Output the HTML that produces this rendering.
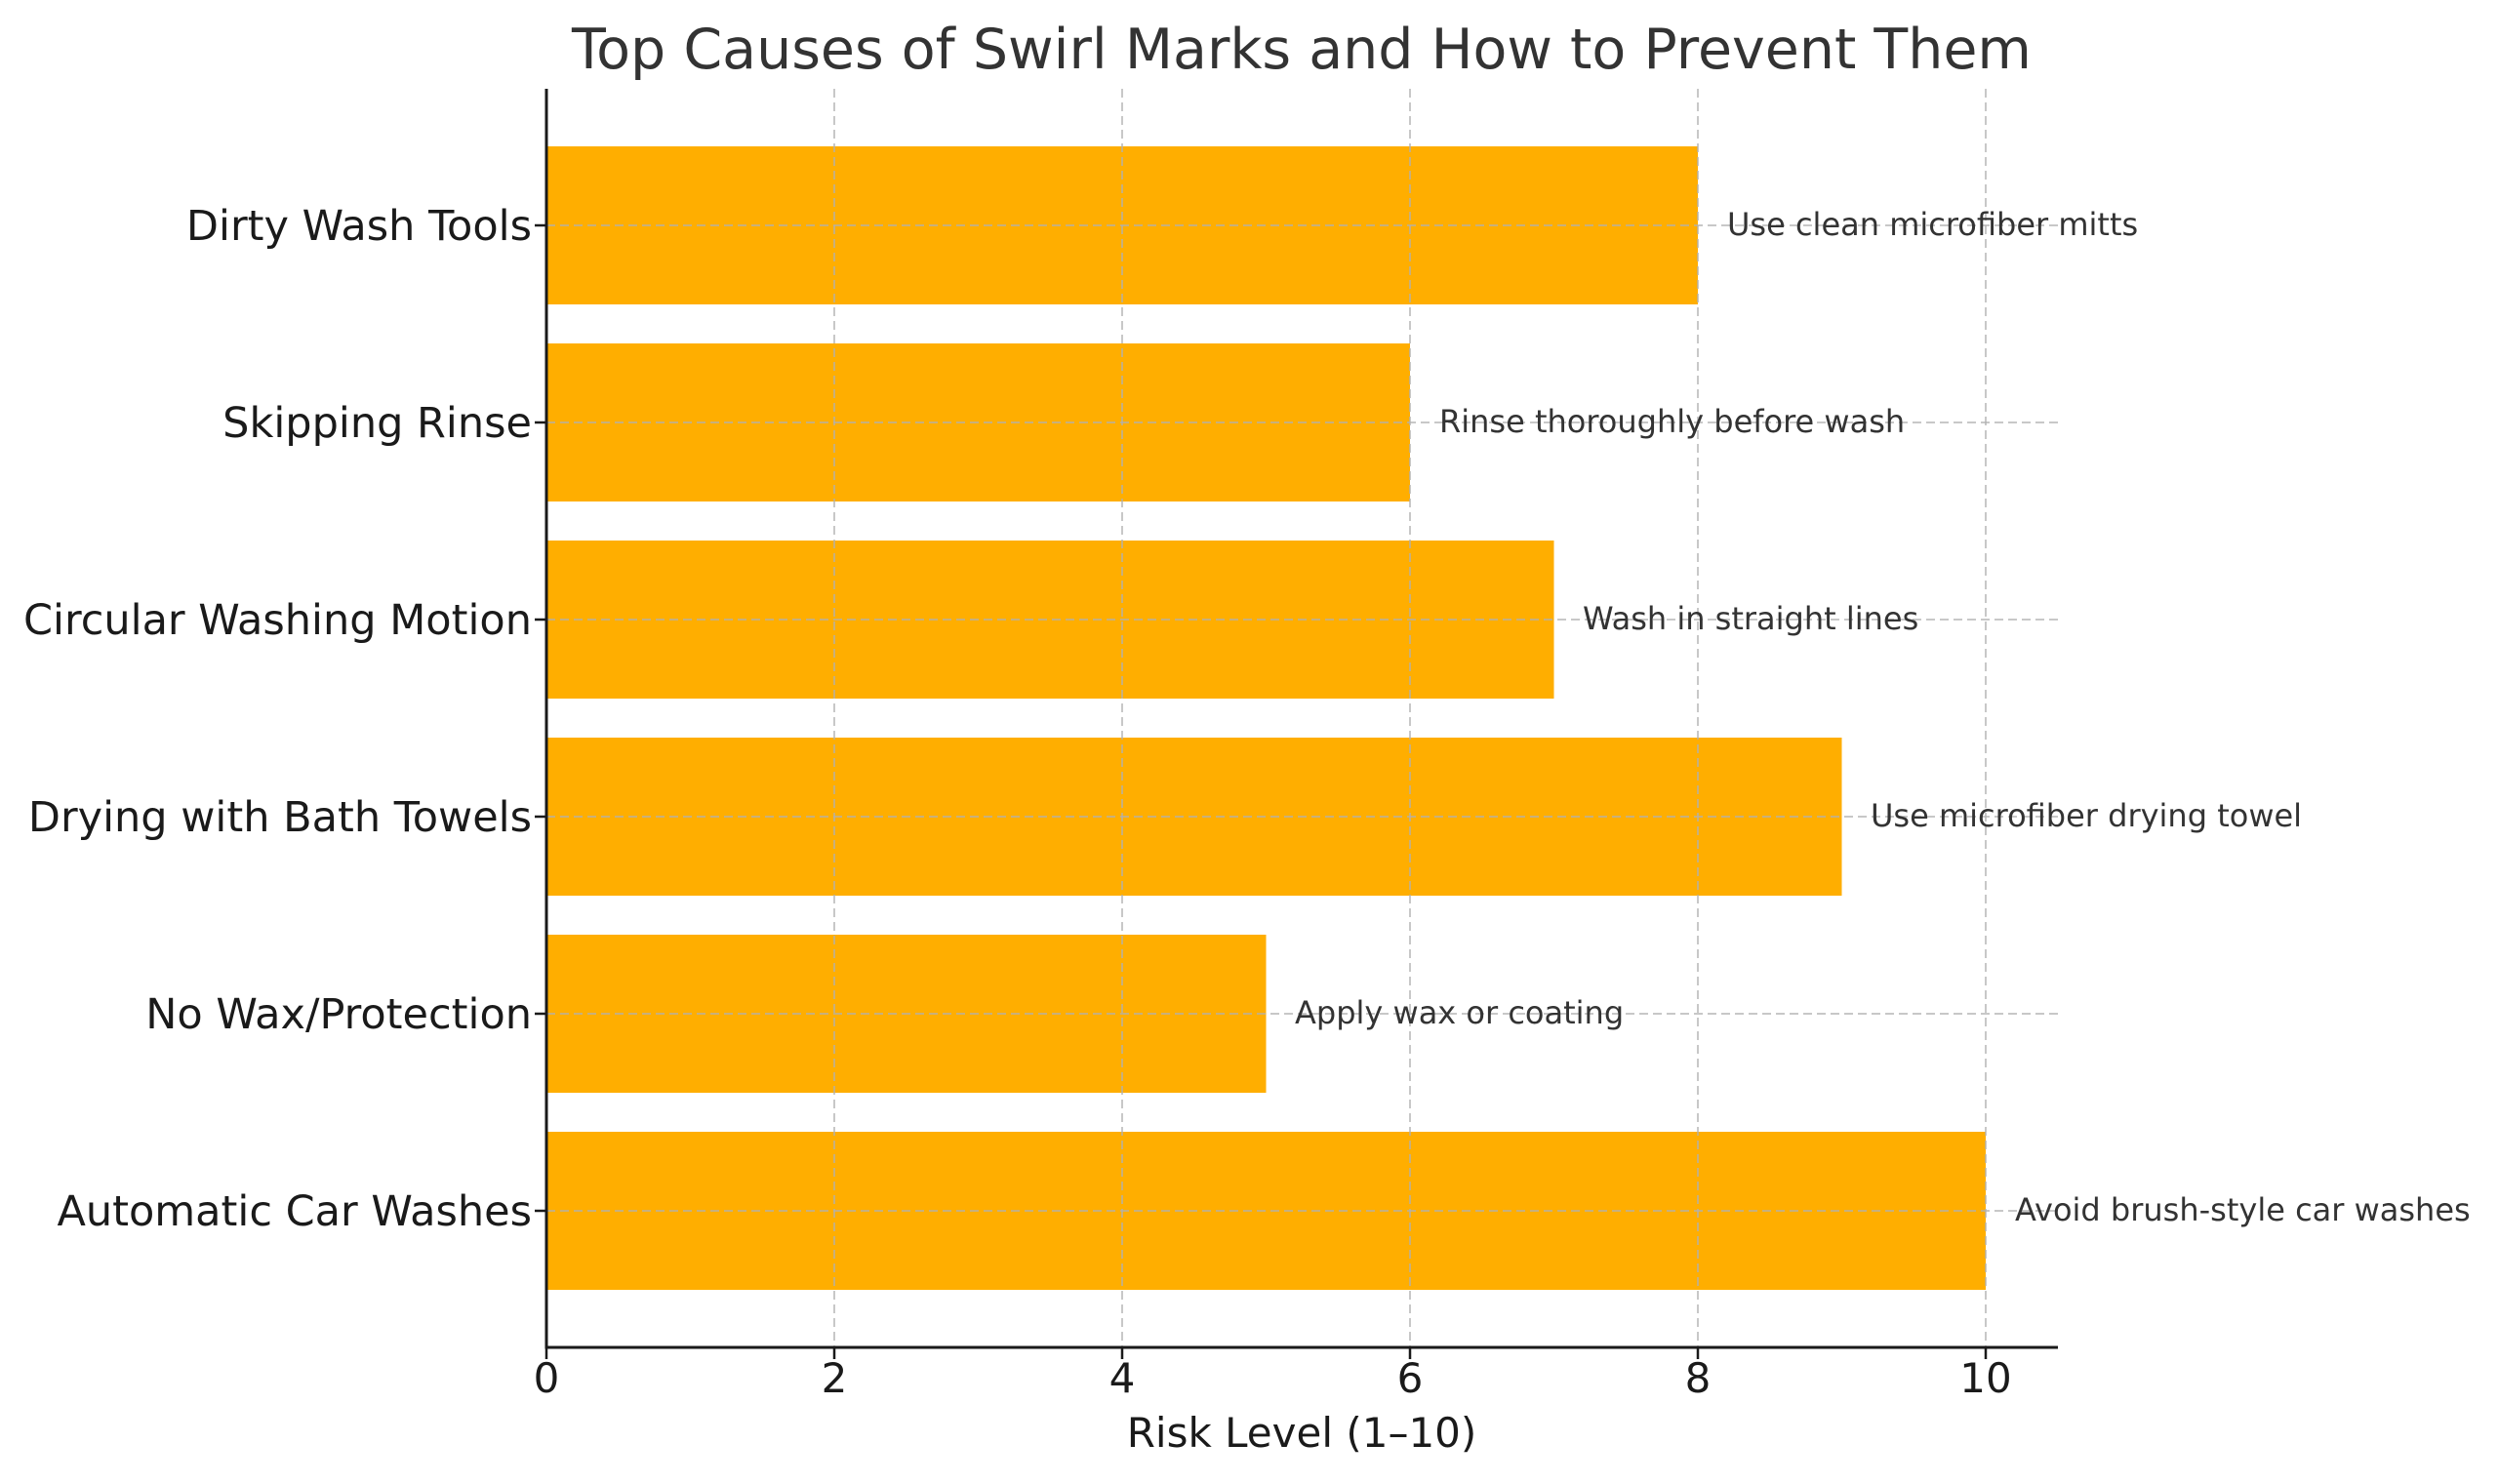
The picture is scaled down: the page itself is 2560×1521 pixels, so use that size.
<!DOCTYPE html>
<html><head><meta charset="utf-8"><style>html,body{margin:0;padding:0;background:#fff}</style></head>
<body>
<svg width="2560" height="1516" viewBox="0 0 2560 1516" xmlns="http://www.w3.org/2000/svg" font-family="DejaVu Sans, Liberation Sans, sans-serif">
<rect width="2560" height="1516" fill="#fff"/>
<g fill="#FFAE00">
<rect x="560" y="150" width="1180" height="162"/>
<rect x="560" y="352" width="885" height="162"/>
<rect x="560" y="554" width="1032.5" height="162"/>
<rect x="560" y="756" width="1327.5" height="162"/>
<rect x="560" y="958" width="737.5" height="162"/>
<rect x="560" y="1160" width="1475" height="162"/>
</g>
<g stroke="#b0b0b0" stroke-opacity="0.7" stroke-width="2" stroke-dasharray="9,5" fill="none">
<line x1="855" y1="91" x2="855" y2="1381"/>
<line x1="1150" y1="91" x2="1150" y2="1381"/>
<line x1="1445" y1="91" x2="1445" y2="1381"/>
<line x1="1740" y1="91" x2="1740" y2="1381"/>
<line x1="2035" y1="91" x2="2035" y2="1381"/>
<line x1="560" y1="231" x2="2109" y2="231"/>
<line x1="560" y1="433" x2="2109" y2="433"/>
<line x1="560" y1="635" x2="2109" y2="635"/>
<line x1="560" y1="837" x2="2109" y2="837"/>
<line x1="560" y1="1039" x2="2109" y2="1039"/>
<line x1="560" y1="1241" x2="2109" y2="1241"/>
</g>
<g stroke="#1a1a1a" stroke-width="3" fill="none">
<line x1="560" y1="91" x2="560" y2="1382"/>
<line x1="558.5" y1="1381" x2="2109" y2="1381"/>
<g stroke-width="2.5">
<line x1="548" y1="231" x2="560" y2="231"/><line x1="548" y1="433" x2="560" y2="433"/><line x1="548" y1="635" x2="560" y2="635"/><line x1="548" y1="837" x2="560" y2="837"/><line x1="548" y1="1039" x2="560" y2="1039"/><line x1="548" y1="1241" x2="560" y2="1241"/>
<line x1="560" y1="1381" x2="560" y2="1393"/><line x1="855" y1="1381" x2="855" y2="1393"/><line x1="1150" y1="1381" x2="1150" y2="1393"/><line x1="1445" y1="1381" x2="1445" y2="1393"/><line x1="1740" y1="1381" x2="1740" y2="1393"/><line x1="2035" y1="1381" x2="2035" y2="1393"/>
</g>
</g>
<text x="1334" y="70" font-size="57" fill="#333" text-anchor="middle">Top Causes of Swirl Marks and How to Prevent Them</text>
<g font-size="43" fill="#1a1a1a" text-anchor="end">
<text x="545" y="246">Dirty Wash Tools</text>
<text x="545" y="448">Skipping Rinse</text>
<text x="545" y="650">Circular Washing Motion</text>
<text x="545" y="852">Drying with Bath Towels</text>
<text x="545" y="1054">No Wax/Protection</text>
<text x="545" y="1256">Automatic Car Washes</text>
</g>
<g font-size="42" fill="#1a1a1a" text-anchor="middle">
<text x="560" y="1427">0</text><text x="855" y="1427">2</text><text x="1150" y="1427">4</text><text x="1445" y="1427">6</text><text x="1740" y="1427">8</text><text x="2035" y="1427">10</text>
</g>
<text x="1334" y="1483" font-size="42" fill="#1a1a1a" text-anchor="middle">Risk Level (1–10)</text>
<g font-size="32" fill="#333">
<text x="1770" y="241">Use clean microfiber mitts</text>
<text x="1475" y="443">Rinse thoroughly before wash</text>
<text x="1622" y="645">Wash in straight lines</text>
<text x="1917" y="847">Use microfiber drying towel</text>
<text x="1327" y="1049">Apply wax or coating</text>
<text x="2065" y="1251">Avoid brush-style car washes</text>
</g>
</svg>
</body></html>
